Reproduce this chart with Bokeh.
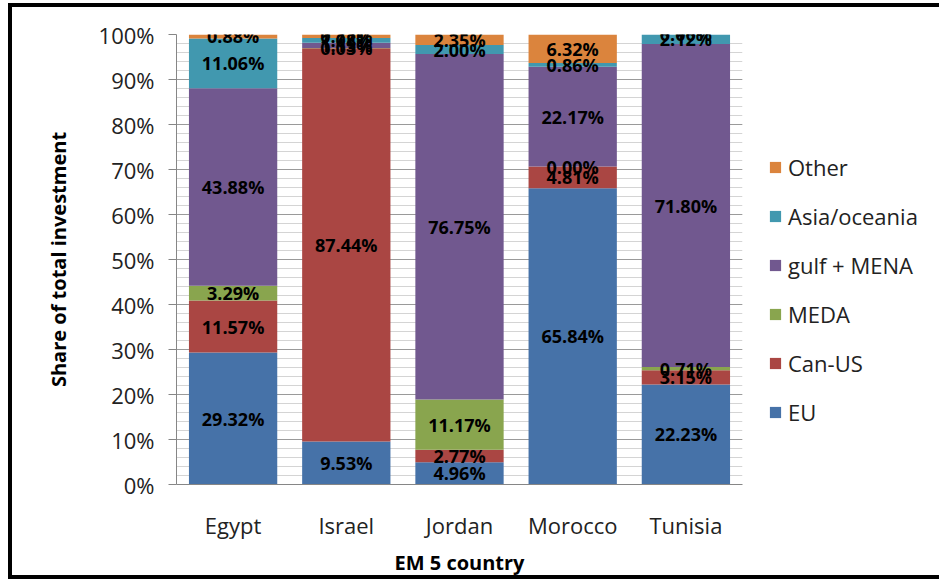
from bokeh.plotting import figure
from bokeh.layouts import row
from bokeh.models import (ColumnDataSource, FactorRange, FixedTicker, PrintfTickFormatter,
                          LabelSet, Legend, LegendItem, Range1d)
from bokeh.core.properties import value
from bokeh.embed import file_html
from bokeh.resources import INLINE
import numpy as np

countries = ["Egypt", "Israel", "Jordan", "Morocco", "Tunisia"]
regions = ["EU", "Can-US", "MEDA", "gulf + MENA", "Asia/oceania", "Other"]
eu = [29.32, 9.53, 4.96, 65.84, 22.23]
can_us = [11.57, 87.44, 2.77, 4.81, 3.15]
meda = [3.29, 0.03, 11.17, 0.00, 0.71]
gulf_mena = [43.88, 1.15, 76.75, 22.17, 71.80]
asia_oceania = [11.06, 1.08, 2.00, 0.86, 2.12]
other = [0.88, 0.77, 2.35, 6.32, 0.00]
y_ticks = [0, 10, 20, 30, 40, 50, 60, 70, 80, 90, 100]

series = [eu, can_us, meda, gulf_mena, asia_oceania, other]
colors = ["#4672A8", "#AA4643", "#89A54E", "#71588F", "#4198AF", "#DB843D"]
FONT = "Open Sans"

data = {"country": countries}
for name, vals in zip(regions, series):
    data[name] = vals
source = ColumnDataSource(data)

p = figure(width=750, height=582, output_backend="svg", toolbar_location=None,
           x_range=FactorRange(factors=countries), y_range=(0, 100),
           min_border_left=176, min_border_right=8, min_border_top=34, min_border_bottom=98)
p.outline_line_color = None
p.background_fill_color = "white"
p.border_fill_color = "white"

renderers = p.vbar_stack(regions, x="country", width=0.78, source=source,
                         color=colors, line_color=None)

# grid
p.xgrid.grid_line_color = None
p.yaxis.ticker = FixedTicker(ticks=y_ticks, minor_ticks=list(range(0, 101, 2)))
p.ygrid.grid_line_color = "#9a9a9a"
p.ygrid.grid_line_width = 1
p.ygrid.minor_grid_line_color = "#d4d4d4"
p.ygrid.minor_grid_line_width = 1

# y axis
p.yaxis.formatter = PrintfTickFormatter(format="%d%%")
p.yaxis.axis_line_color = "#868686"
p.yaxis.major_tick_line_color = "#868686"
p.yaxis.major_tick_out = 8
p.yaxis.major_tick_in = 0
p.yaxis.minor_tick_line_color = None
p.yaxis.major_label_text_font = FONT
p.yaxis.major_label_text_font_size = "22px"
p.yaxis.major_label_text_color = "#222222"
p.yaxis.major_label_standoff = 14
p.yaxis.axis_label = "Share of total investment"
p.yaxis.axis_label_text_font = FONT
p.yaxis.axis_label_text_font_style = "bold"
p.yaxis.axis_label_text_font_size = "20px"
p.yaxis.axis_label_text_color = "black"
p.yaxis.axis_label_standoff = 24

# x axis
p.xaxis.axis_line_color = "#868686"
p.xaxis.major_tick_line_color = None
p.xaxis.minor_tick_line_color = None
p.xaxis.major_label_text_font = FONT
p.xaxis.major_label_text_font_size = "22px"
p.xaxis.major_label_text_color = "#222222"
p.xaxis.major_label_standoff = 19
p.xaxis.axis_label = "EM 5 country"
p.xaxis.axis_label_text_font = FONT
p.xaxis.axis_label_text_font_style = "bold"
p.xaxis.axis_label_text_font_size = "20px"
p.xaxis.axis_label_text_color = "black"
p.xaxis.axis_label_standoff = 6

# data labels
lx, ly, lt = [], [], []
arr = np.array(series)
cum = np.cumsum(arr, axis=0)
for si in range(len(series)):
    for ci, c in enumerate(countries):
        v = arr[si, ci]
        mid = cum[si, ci] - v / 2.0
        lx.append(c)
        ly.append(mid)
        lt.append(f"{v:.2f}%")
lsrc = ColumnDataSource(dict(x=lx, y=ly, t=lt))
labels = LabelSet(x="x", y="y", text="t", source=lsrc, text_align="center",
                  text_baseline="middle", text_font=value(FONT), text_font_style="bold",
                  text_font_size="18px", text_color="black")
p.add_layout(labels)

# legend figure
q = figure(width=189, height=582, output_backend="svg", toolbar_location=None,
           min_border=0, x_axis_type=None, y_axis_type=None,
           x_range=Range1d(0, 1), y_range=Range1d(0, 1))
q.outline_line_color = None
q.grid.grid_line_color = None
q.background_fill_color = "white"
q.border_fill_color = "white"
leg_renderers = []
for c in colors:
    leg_renderers.append(q.vbar(x=[0.5], top=[0], bottom=[0], width=0.0,
                                fill_color=c, line_color=None))
items = [LegendItem(label=regions[i], renderers=[leg_renderers[i]])
         for i in reversed(range(len(regions)))]
legend = Legend(items=items, location=(18, 57), orientation="vertical",
                label_text_font=FONT, label_text_font_size="22px", label_text_color="#222222",
                glyph_width=14, glyph_height=14, label_standoff=6, spacing=19,
                padding=0, margin=0, border_line_color=None, background_fill_alpha=0)
q.add_layout(legend, "center")

layout = row(p, q, spacing=0)
# outer black frame (page decoration)
layout.stylesheets = [":host::after { content: ''; position: absolute; left: 8px; top: 3px; "
                      "right: 0px; bottom: 3px; border: 4px solid black; border-right: none; "
                      "box-sizing: border-box; pointer-events: none; z-index: 10; }"]

open("out.html", "w").write(file_html(layout, INLINE))
